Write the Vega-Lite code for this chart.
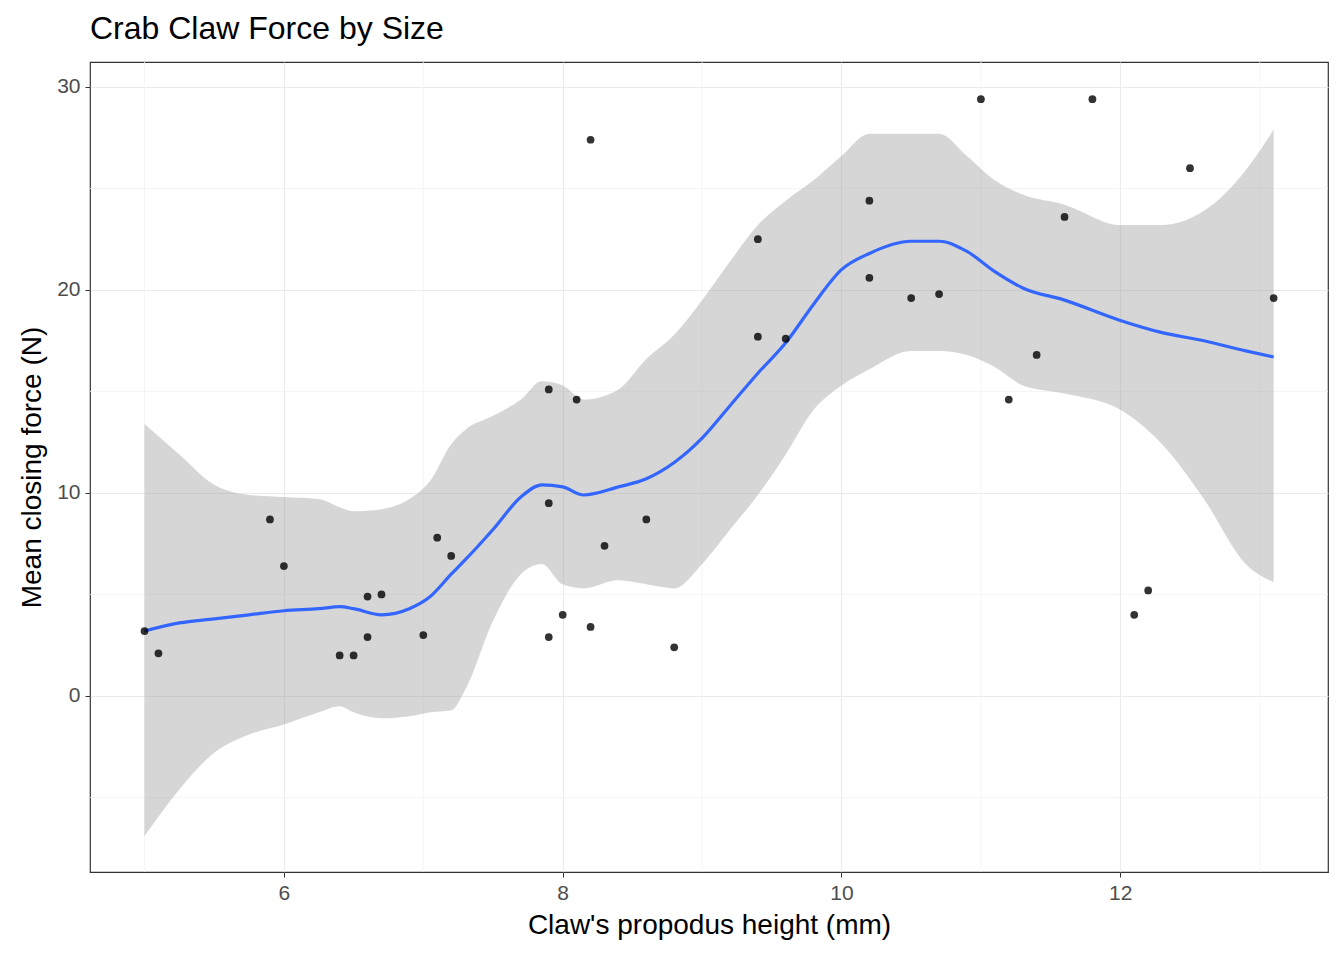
{
  "$schema": "https://vega.github.io/schema/vega-lite/v6.json",
  "autosize": "none",
  "width": 1238,
  "height": 810,
  "padding": {"left": 90, "top": 62, "right": 16, "bottom": 88},
  "background": "white",
  "config": {
    "font": "Liberation Sans",
    "view": {"stroke": "#333333", "strokeWidth": 1.2},
    "axis": {
      "gridColor": "#ebebeb", "gridWidth": 1.1,
      "domain": false,
      "tickColor": "#333333", "tickSize": 5,
      "labelColor": "#4d4d4d", "labelFontSize": 21, "labelPadding": 5, "format": "d",
      "titleColor": "black", "titleFontSize": 28, "titleFontWeight": "normal"
    }
  },
  "title": {"text": "Crab Claw Force by Size", "anchor": "start", "frame": "group", "fontSize": 32, "fontWeight": "normal", "color": "black", "offset": 16},
  "datasets": {
    "crabs": [
      {"height": 5.0, "force": 3.2}, {"height": 5.1, "force": 2.1}, {"height": 5.9, "force": 8.7},
      {"height": 6.0, "force": 6.4}, {"height": 6.4, "force": 2.0}, {"height": 6.5, "force": 2.0},
      {"height": 6.6, "force": 4.9}, {"height": 6.6, "force": 2.9}, {"height": 6.7, "force": 5.0},
      {"height": 7.0, "force": 3.0}, {"height": 7.1, "force": 7.8}, {"height": 7.2, "force": 6.9},
      {"height": 7.9, "force": 15.1}, {"height": 7.9, "force": 9.5}, {"height": 7.9, "force": 2.9},
      {"height": 8.0, "force": 4.0}, {"height": 8.1, "force": 14.6}, {"height": 8.2, "force": 27.4},
      {"height": 8.2, "force": 3.4}, {"height": 8.3, "force": 7.4}, {"height": 8.6, "force": 8.7},
      {"height": 8.8, "force": 2.4}, {"height": 9.4, "force": 22.5}, {"height": 9.4, "force": 17.7},
      {"height": 9.6, "force": 17.6}, {"height": 10.2, "force": 24.4}, {"height": 10.2, "force": 20.6},
      {"height": 10.5, "force": 19.6}, {"height": 10.7, "force": 19.8}, {"height": 11.0, "force": 29.4},
      {"height": 11.2, "force": 14.6}, {"height": 11.4, "force": 16.8}, {"height": 11.6, "force": 23.6},
      {"height": 11.8, "force": 29.4}, {"height": 12.1, "force": 4.0}, {"height": 12.2, "force": 5.2},
      {"height": 12.5, "force": 26.0}, {"height": 13.1, "force": 19.6}
    ],
    "smooth": [
      {"x": 5.0, "fit": 3.2, "lo": -6.9, "hi": 13.4},
      {"x": 5.25, "fit": 3.6, "lo": -4.6, "hi": 11.9},
      {"x": 5.5, "fit": 3.8, "lo": -2.8, "hi": 10.4},
      {"x": 5.75, "fit": 4.0, "lo": -1.9, "hi": 9.9},
      {"x": 6.0, "fit": 4.2, "lo": -1.4, "hi": 9.8},
      {"x": 6.25, "fit": 4.3, "lo": -0.8, "hi": 9.7},
      {"x": 6.4, "fit": 4.4, "lo": -0.5, "hi": 9.3},
      {"x": 6.5, "fit": 4.3, "lo": -0.8, "hi": 9.1},
      {"x": 6.7, "fit": 4.0, "lo": -1.1, "hi": 9.2},
      {"x": 6.9, "fit": 4.3, "lo": -1.0, "hi": 9.7},
      {"x": 7.05, "fit": 4.9, "lo": -0.8, "hi": 10.6},
      {"x": 7.2, "fit": 6.0, "lo": -0.7, "hi": 12.4},
      {"x": 7.3, "fit": 6.7, "lo": 0.3, "hi": 13.1},
      {"x": 7.5, "fit": 8.2, "lo": 3.7, "hi": 13.8},
      {"x": 7.7, "fit": 9.8, "lo": 6.0, "hi": 14.6},
      {"x": 7.85, "fit": 10.4, "lo": 6.5, "hi": 15.5},
      {"x": 8.0, "fit": 10.3, "lo": 5.5, "hi": 15.3},
      {"x": 8.15, "fit": 9.9, "lo": 5.3, "hi": 14.6},
      {"x": 8.4, "fit": 10.3, "lo": 5.7, "hi": 15.1},
      {"x": 8.6, "fit": 10.7, "lo": 5.5, "hi": 16.6},
      {"x": 8.8, "fit": 11.5, "lo": 5.3, "hi": 17.8},
      {"x": 9.0, "fit": 12.7, "lo": 6.5, "hi": 19.5},
      {"x": 9.2, "fit": 14.3, "lo": 8.2, "hi": 21.4},
      {"x": 9.4, "fit": 15.9, "lo": 9.9, "hi": 23.2},
      {"x": 9.6, "fit": 17.4, "lo": 11.9, "hi": 24.4},
      {"x": 9.8, "fit": 19.3, "lo": 14.1, "hi": 25.4},
      {"x": 10.0, "fit": 21.0, "lo": 15.3, "hi": 26.6},
      {"x": 10.2, "fit": 21.8, "lo": 16.1, "hi": 27.7},
      {"x": 10.5, "fit": 22.4, "lo": 17.0, "hi": 27.7},
      {"x": 10.7, "fit": 22.4, "lo": 17.0, "hi": 27.7},
      {"x": 10.9, "fit": 21.9, "lo": 16.8, "hi": 26.6},
      {"x": 11.1, "fit": 20.9, "lo": 16.2, "hi": 25.4},
      {"x": 11.3, "fit": 20.1, "lo": 15.3, "hi": 24.7},
      {"x": 11.6, "fit": 19.5, "lo": 14.9, "hi": 24.2},
      {"x": 12.0, "fit": 18.5, "lo": 14.1, "hi": 23.2},
      {"x": 12.3, "fit": 17.9, "lo": 12.4, "hi": 23.2},
      {"x": 12.6, "fit": 17.5, "lo": 9.7, "hi": 23.9},
      {"x": 12.9, "fit": 17.0, "lo": 6.5, "hi": 25.9},
      {"x": 13.1, "fit": 16.7, "lo": 5.6, "hi": 27.9}
    ],
    "minorX": [{"v": 5}, {"v": 7}, {"v": 9}, {"v": 11}, {"v": 13}],
    "minorY": [{"v": -5}, {"v": 5}, {"v": 15}, {"v": 25}]
  },
  "layer": [
    {
      "data": {"name": "minorX"},
      "mark": {"type": "rule", "color": "#f3f3f3", "strokeWidth": 0.8},
      "encoding": {"x": {"field": "v", "type": "quantitative"}}
    },
    {
      "data": {"name": "minorY"},
      "mark": {"type": "rule", "color": "#f3f3f3", "strokeWidth": 0.8},
      "encoding": {"y": {"field": "v", "type": "quantitative"}}
    },
    {
      "data": {"name": "smooth"},
      "mark": {"type": "area", "color": "#999999", "opacity": 0.4, "interpolate": "monotone"},
      "encoding": {
        "x": {"field": "x", "type": "quantitative"},
        "y": {"field": "lo", "type": "quantitative"},
        "y2": {"field": "hi"}
      }
    },
    {
      "data": {"name": "smooth"},
      "mark": {"type": "line", "color": "#3366FF", "strokeWidth": 3.2, "interpolate": "monotone"},
      "encoding": {
        "x": {"field": "x", "type": "quantitative"},
        "y": {"field": "fit", "type": "quantitative"}
      }
    },
    {
      "data": {"name": "crabs"},
      "mark": {"type": "point", "filled": true, "color": "black", "opacity": 0.8, "size": 60},
      "encoding": {
        "x": {
          "field": "height", "type": "quantitative",
          "scale": {"domain": [4.609, 13.49], "nice": false, "zero": false},
          "axis": {"title": "Claw's propodus height (mm)", "values": [6, 8, 10, 12], "titlePadding": 8}
        },
        "y": {
          "field": "force", "type": "quantitative",
          "scale": {"domain": [-8.67, 31.23], "nice": false, "zero": false},
          "axis": {"title": "Mean closing force (N)", "values": [0, 10, 20, 30], "titlePadding": 10}
        }
      }
    }
  ]
}
